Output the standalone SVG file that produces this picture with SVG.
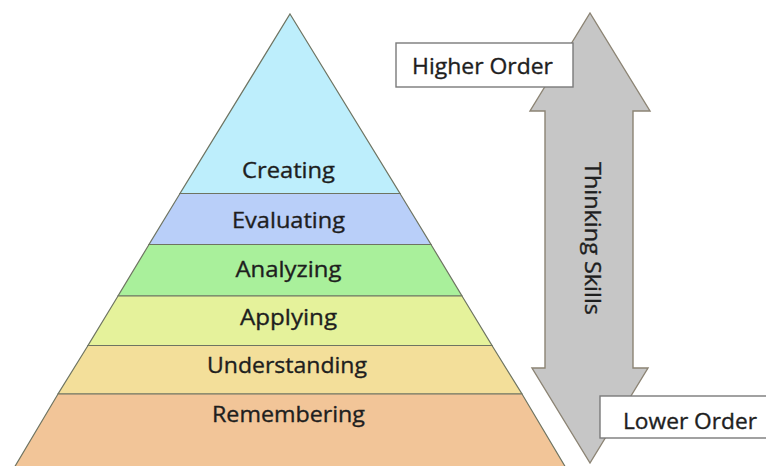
<svg xmlns="http://www.w3.org/2000/svg" width="766" height="466" viewBox="0 0 766 466">
  <style>
    .band { stroke: #6e7462; stroke-width: 1.2; }
    .lbl { font-family: "Open Sans", "Liberation Sans", sans-serif; font-size: 22px; fill: #1e1e1e; stroke: #1e1e1e; stroke-width: 0.35; text-anchor: middle; }
    .box { fill: #fff; stroke: #7a7a7a; stroke-width: 1.4; }
    .arrow { fill: #c6c6c6; stroke: #8c8474; stroke-width: 1.4; stroke-linejoin: miter; }
  </style>
  <rect width="766" height="466" fill="#fff"/>

  <!-- pyramid levels, apex at (290,14) -->
  <g id="creating">
    <polygon class="band" points="290,14 400,193.5 180,193.5" fill="#bdeefc"/>
    <text class="lbl" x="288.5" y="178" textLength="93" lengthAdjust="spacingAndGlyphs">Creating</text>
  </g>
  <g id="evaluating">
    <polygon class="band" points="180,193.5 400,193.5 431,244.5 149,244.5" fill="#b9cff9"/>
    <text class="lbl" x="288.5" y="228" textLength="113" lengthAdjust="spacingAndGlyphs">Evaluating</text>
  </g>
  <g id="analyzing">
    <polygon class="band" points="149,244.5 431,244.5 462,296 118,296" fill="#a9f09b"/>
    <text class="lbl" x="288.5" y="277" textLength="106" lengthAdjust="spacingAndGlyphs">Analyzing</text>
  </g>
  <g id="applying">
    <polygon class="band" points="118,296 462,296 492,345.5 88,345.5" fill="#e5f29b"/>
    <text class="lbl" x="288.5" y="325" textLength="97" lengthAdjust="spacingAndGlyphs">Applying</text>
  </g>
  <g id="understanding">
    <polygon class="band" points="88,345.5 492,345.5 522,394 58,394" fill="#f3df9a"/>
    <text class="lbl" x="287" y="373" textLength="160" lengthAdjust="spacingAndGlyphs">Understanding</text>
  </g>
  <g id="remembering">
    <polygon class="band" points="58,394 522,394 566,468 14,468" fill="#f2c598"/>
    <text class="lbl" x="288.5" y="422" textLength="153" lengthAdjust="spacingAndGlyphs">Remembering</text>
  </g>

  <!-- double-headed thinking skills arrow -->
  <g id="connectors">
    <polygon class="arrow" points="590,13 650,111 633,111 633,368 648,368 590,463 532,368 545,368 545,111 530,111"/>
    <text class="lbl" transform="translate(585,238.5) rotate(90)" textLength="153" lengthAdjust="spacingAndGlyphs">Thinking Skills</text>
  </g>

  <g id="higher-order">
    <rect class="box" x="396" y="43" width="177" height="44"/>
    <text class="lbl" x="482.5" y="74" textLength="141" lengthAdjust="spacingAndGlyphs">Higher Order</text>
  </g>
  <g id="lower-order">
    <rect class="box" x="600" y="396" width="175" height="42"/>
    <text class="lbl" x="690" y="429" textLength="134" lengthAdjust="spacingAndGlyphs">Lower Order</text>
  </g>
</svg>
